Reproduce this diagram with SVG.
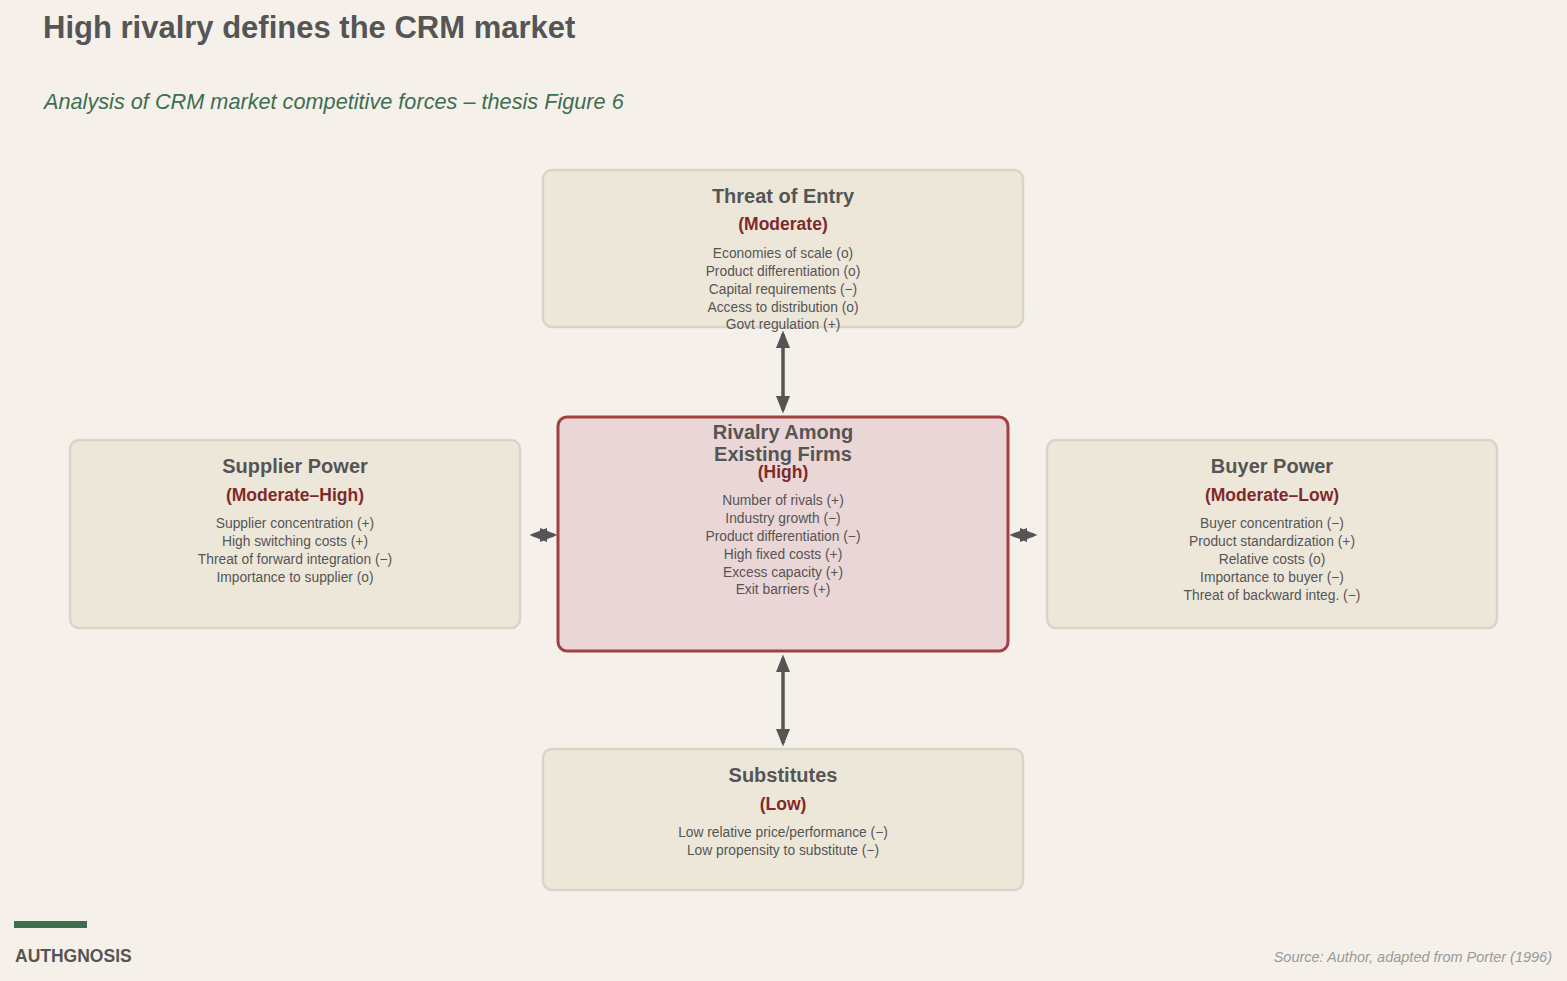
<svg xmlns="http://www.w3.org/2000/svg" width="1567" height="981" viewBox="0 0 1567 981">
<style>
text{font-family:"Liberation Sans",Arial,sans-serif;}
.box{fill:#ede7da;stroke:#d9d5c6;stroke-width:2.5}
.t{font-size:20px;font-weight:bold;fill:#555;text-anchor:middle}
.r{font-size:17.5px;font-weight:bold;fill:#7f2a2a;text-anchor:middle}
.i{font-size:13.8px;fill:#555;text-anchor:middle}
.c{stroke:#555;stroke-width:3.5;fill:none;marker-start:url(#a);marker-end:url(#a)}
</style>
<defs><marker id="a" viewBox="0 0 10 10" refX="8" refY="5" markerWidth="5" markerHeight="5" orient="auto-start-reverse" markerUnits="strokeWidth"><path d="M0,1 L10,5 L0,9 Z" fill="#555"/></marker></defs>
<rect width="1567" height="981" fill="#f5f1ea"/>
<text x="43" y="38" font-size="31" font-weight="bold" fill="#555">High rivalry defines the CRM market</text>
<text x="44" y="109" font-size="21.7" font-style="italic" fill="#3e6e50">Analysis of CRM market competitive forces – thesis Figure 6</text>
<g id="connectors">
<line class="c" x1="783" y1="334" x2="783" y2="410"/>
<line class="c" x1="783" y1="658" x2="783" y2="743"/>
<line class="c" x1="533" y1="535" x2="554" y2="535"/>
<line class="c" x1="1013" y1="535" x2="1034" y2="535"/>
</g>
<g id="entry"><rect class="box" x="543" y="170" width="480" height="157" rx="9"/>
<text class="t" x="783" y="203">Threat of Entry</text><text class="r" x="783" y="230">(Moderate)</text>
<text class="i" x="783" y="258">Economies of scale (o)</text><text class="i" x="783" y="276">Product differentiation (o)</text><text class="i" x="783" y="294">Capital requirements (−)</text><text class="i" x="783" y="312">Access to distribution (o)</text><text class="i" x="783" y="329">Govt regulation (+)</text></g>
<g id="supplier"><rect class="box" x="70" y="440" width="450" height="188" rx="9"/>
<text class="t" x="295" y="473">Supplier Power</text><text class="r" x="295" y="501">(Moderate–High)</text>
<text class="i" x="295" y="528">Supplier concentration (+)</text><text class="i" x="295" y="546">High switching costs (+)</text><text class="i" x="295" y="564">Threat of forward integration (−)</text><text class="i" x="295" y="582">Importance to supplier (o)</text></g>
<g id="rivalry"><rect x="558" y="417" width="450" height="234" rx="9" fill="#ead6d6" stroke="#a04040" stroke-width="3"/>
<text class="t" x="783" y="439">Rivalry Among</text><text class="t" x="783" y="461">Existing Firms</text><text class="r" x="783" y="478">(High)</text>
<text class="i" x="783" y="505">Number of rivals (+)</text><text class="i" x="783" y="523">Industry growth (−)</text><text class="i" x="783" y="541">Product differentiation (−)</text><text class="i" x="783" y="559">High fixed costs (+)</text><text class="i" x="783" y="577">Excess capacity (+)</text><text class="i" x="783" y="594">Exit barriers (+)</text></g>
<g id="buyer"><rect class="box" x="1047" y="440" width="450" height="188" rx="9"/>
<text class="t" x="1272" y="473">Buyer Power</text><text class="r" x="1272" y="501">(Moderate–Low)</text>
<text class="i" x="1272" y="528">Buyer concentration (−)</text><text class="i" x="1272" y="546">Product standardization (+)</text><text class="i" x="1272" y="564">Relative costs (o)</text><text class="i" x="1272" y="582">Importance to buyer (−)</text><text class="i" x="1272" y="600">Threat of backward integ. (−)</text></g>
<g id="substitutes"><rect class="box" x="543" y="749" width="480" height="141" rx="9"/>
<text class="t" x="783" y="782">Substitutes</text><text class="r" x="783" y="810">(Low)</text>
<text class="i" x="783" y="837">Low relative price/performance (−)</text><text class="i" x="783" y="855">Low propensity to substitute (−)</text></g>
<rect x="14" y="921" width="73" height="7" fill="#3e6e50"/>
<text x="15" y="962" font-size="17.5" font-weight="bold" fill="#555">AUTHGNOSIS</text>
<text x="1552" y="962" font-size="14.5" font-style="italic" fill="#999" text-anchor="end">Source: Author, adapted from Porter (1996)</text>
</svg>
